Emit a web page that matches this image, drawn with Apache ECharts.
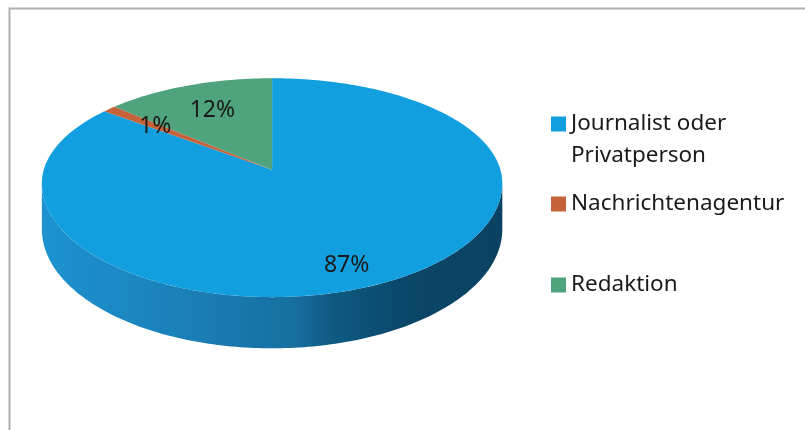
<!DOCTYPE html>
<html>
<head>
<meta charset="utf-8">
<script src="https://cdn.jsdelivr.net/npm/echarts@6/dist/echarts.min.js"></script>
<style>
  html, body { margin: 0; padding: 0; background: #fff; }
  #chart { width: 805px; height: 430px; }
</style>
</head>
<body>
<div id="chart"></div>
<script>
// data
const categories = ['Journalist oder\nPrivatperson', 'Nachrichtenagentur', 'Redaktion']
const values = [87, 1, 12]
const colors = ['#129fe0', '#c4633a', '#4fa37d']

const FONT = '"Noto Sans", "Open Sans", sans-serif'

const myChart = echarts.init(document.getElementById('chart'))

const total = values.reduce((a, b) => a + b, 0)
// start / end angle of each slice, clockwise from 12 o'clock
const angles = []
let acc = 0
values.forEach(v => {
  const a0 = (acc / total) * Math.PI * 2
  acc += v
  angles.push([a0, (acc / total) * Math.PI * 2])
})

// pie geometry (3d look: far half flatter, centre tip above the widest line)
function geo(api) {
  const w = api.getWidth()
  const h = api.getHeight()
  return {
    cx: w * 0.338,
    tipY: h * 0.395,
    eqY: h * 0.426,
    rx: w * 0.286,
    ryFar: h * 0.244,
    ryNear: h * 0.265,
    depthFront: h * 0.119,
    depthSide: h * 0.107
  }
}

function rim(g, phi) {
  const s = Math.sin(phi)
  const c = Math.cos(phi)
  const ry = c > 0 ? g.ryFar : g.ryNear
  return [g.cx + g.rx * s, g.eqY - ry * c]
}

function drop(g, phi) {
  return g.depthSide + (g.depthFront - g.depthSide) * Math.max(0, -Math.cos(phi))
}

function arcPoints(g, a0, a1, withDrop) {
  const pts = []
  const steps = Math.max(2, Math.ceil((a1 - a0) / 0.02))
  for (let k = 0; k <= steps; k++) {
    const a = a0 + ((a1 - a0) * k) / steps
    const p = rim(g, a)
    if (withDrop) p[1] += drop(g, a)
    pts.push(p)
  }
  return pts
}

function makeRender(i) {
  return function (params, api) {
    const g = geo(api)
    const [a0, a1] = angles[i]
    const children = []

    // outer wall, only the front half is visible
    const b0 = Math.max(a0, Math.PI / 2)
    const b1 = Math.min(a1, Math.PI * 1.5)
    if (b1 > b0) {
      const top = arcPoints(g, b0, b1, false)
      const bottom = arcPoints(g, b0, b1, true).reverse()
      children.push({
        type: 'polygon',
        z2: 1,
        shape: { points: top.concat(bottom) },
        style: {
          fill: new echarts.graphic.LinearGradient(0, 0, 1, 0, [
            { offset: 0, color: '#1c93d0' },
            { offset: 0.3, color: '#1a80b8' },
            { offset: 0.55, color: '#176fa0' },
            { offset: 0.63, color: '#0f5a82' },
            { offset: 0.8, color: '#0a4668' },
            { offset: 1, color: '#0a4262' }
          ])
        }
      })
    }

    // top face
    children.push({
      type: 'polygon',
      z2: 5,
      shape: { points: [[g.cx, g.tipY]].concat(arcPoints(g, a0, a1, false)) },
      style: { fill: api.visual('color') }
    })

    // percent label, between tip and rim
    const mid = (a0 + a1) / 2
    const r = rim(g, mid)
    const f = 0.76 - 0.06 * Math.cos(mid)
    children.push({
      type: 'text',
      z2: 10,
      x: g.cx + (r[0] - g.cx) * f,
      y: g.tipY + (r[1] - g.tipY) * f,
      style: {
        text: Math.round((values[i] / total) * 100) + '%',
        fill: '#1a1a1a',
        font: '23px ' + FONT,
        align: 'center',
        verticalAlign: 'middle'
      }
    })

    return { type: 'group', children: children }
  }
}

const legendTops = [76, 188, 269]

const option = {
  animation: false,
  graphic: [
    {
      type: 'rect',
      left: 7,
      top: 6,
      shape: { width: 900, height: 500 },
      style: { fill: 'none', stroke: '#b0b0b0', lineWidth: 2 }
    }
  ],
  legend: categories.map((name, i) => ({
    data: [name],
    orient: 'vertical',
    left: 551,
    top: legendTops[i],
    padding: 0,
    icon: 'rect',
    itemWidth: 15,
    itemHeight: 15,
    selectedMode: false,
    // multi-line name: blank first line keeps the square beside line one
    formatter: n => (n.indexOf('\n') >= 0 ? '\n' + n : n),
    textStyle: {
      fontFamily: FONT,
      fontSize: 22.5,
      color: '#1a1a1a',
      lineHeight: 32
    }
  })),
  series: categories.map((name, i) => ({
    type: 'custom',
    name: name,
    coordinateSystem: 'none',
    itemStyle: { color: colors[i] },
    data: [[values[i]]],
    renderItem: makeRender(i)
  }))
}

option && myChart.setOption(option)
</script>
</body>
</html>
